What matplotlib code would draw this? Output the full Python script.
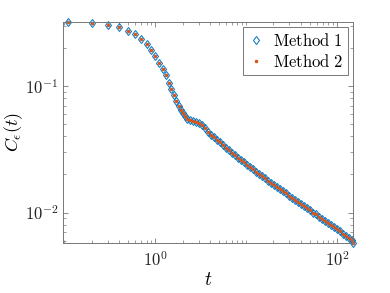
import numpy as np
import matplotlib
matplotlib.use("Agg")
import matplotlib.pyplot as plt
from matplotlib.ticker import FixedLocator, NullFormatter

plt.rcParams["mathtext.fontset"] = "cm"
plt.rcParams["font.family"] = "serif"
plt.rcParams["font.serif"] = ["cmr10", "DejaVu Serif"]
plt.rcParams["axes.formatter.use_mathtext"] = True

# time points: sparse early part, then dense band
t = [0.11, 0.2, 0.3, 0.4, 0.5, 0.6, 0.7, 0.8, 0.9, 1.0, 1.1, 1.2, 1.3, 1.4,
     1.5, 1.6, 1.7, 1.8, 1.9, 2.0, 2.1,
     2.24, 2.42, 2.61, 2.82, 3.04, 3.28, 3.53, 3.81, 4.11, 4.44, 4.79, 5.16,
     5.57, 6.01, 6.48, 6.99, 7.54, 8.13, 8.77, 9.46, 10.2, 11.0, 11.9, 12.8,
     13.8, 14.9, 16.1, 17.3, 18.7, 20.2, 21.8, 23.5, 25.3, 27.3, 29.5, 31.8,
     34.3, 37.0, 39.9, 43.0, 46.4, 50.1, 54.0, 58.3, 62.8, 67.8, 73.1, 78.9,
     85.1, 91.8, 99.0, 106.8, 115.2, 124.3, 134.1, 144.6, 150.0]

# correlation C_eps(t), method 1
c_m1 = [0.323, 0.313, 0.305, 0.291, 0.274, 0.257, 0.235, 0.215, 0.194, 0.173,
        0.153, 0.136, 0.121, 0.106, 0.0947, 0.0849, 0.0757, 0.0695, 0.0646,
        0.0608, 0.0579,
        0.0553, 0.0538, 0.0531, 0.0524, 0.0512, 0.0489, 0.0463, 0.0436,
        0.0412, 0.0392, 0.0375, 0.0358, 0.0342, 0.0326, 0.0311, 0.0297,
        0.0284, 0.0271, 0.0259, 0.0249, 0.0239, 0.0229, 0.0220, 0.0211,
        0.0203, 0.0195, 0.0187, 0.0179, 0.0172, 0.0165, 0.0159, 0.0153,
        0.0147, 0.0142, 0.0136, 0.0131, 0.0126, 0.0122, 0.0117, 0.0113,
        0.0108, 0.0104, 0.0100, 0.00966, 0.00930, 0.00895, 0.00861, 0.00829,
        0.00798, 0.00768, 0.00739, 0.00711, 0.00683, 0.00656, 0.00631,
        0.00604, 0.00580]

# method 2 gives the same values to plotting accuracy
c_m2 = list(c_m1)

fig = plt.figure(figsize=(3.9, 2.93), dpi=100)
ax = fig.add_axes([0.1623, 0.1706, 0.7427, 0.7560])

ax.plot(t, c_m1, ls="none", marker="d", ms=4.5, mfc="none", mec="#0072BD",
        mew=0.7, label=r"$\mathrm{Method\ 1}$", clip_on=False)
ax.plot(t, c_m2, ls="none", marker=".", ms=3, color="#D95319",
        label=r"$\mathrm{Method\ 2}$", clip_on=False)

ax.set_xscale("log")
ax.set_yscale("log")
ax.set_xlim(0.097, 150)
ax.set_ylim(0.00575, 0.323)

ax.xaxis.set_major_locator(FixedLocator([1, 100]))
ax.set_xticklabels([r"$10^{0}$", r"$10^{2}$"])
xminor = [k * 10.0 ** e for e in (-1, 0, 1, 2) for k in range(1, 10)]
ax.xaxis.set_minor_locator(FixedLocator([v for v in xminor if v not in (1, 100)]))
ax.xaxis.set_minor_formatter(NullFormatter())

ax.yaxis.set_major_locator(FixedLocator([0.01, 0.1]))
ax.set_yticklabels([r"$10^{-2}$", r"$10^{-1}$"])
yminor = [k * 10.0 ** e for e in (-3, -2, -1) for k in range(1, 10)]
ax.yaxis.set_minor_locator(FixedLocator([v for v in yminor if v not in (0.01, 0.1)]))
ax.yaxis.set_minor_formatter(NullFormatter())

gray = "#777777"
for sp in ax.spines.values():
    sp.set_color(gray)
    sp.set_linewidth(0.7)
ax.tick_params(which="both", direction="in", top=True, right=True,
               color=gray, labelsize=12, labelcolor="#222222")
ax.tick_params(which="major", length=3.5, width=0.6)
ax.tick_params(which="minor", length=2, width=0.5)
ax.tick_params(axis="x", pad=5)

ax.set_xlabel(r"$t$", fontsize=14, labelpad=2)
ax.set_ylabel(r"$C_{\epsilon}(t)$", fontsize=13, labelpad=0)

leg = ax.legend(loc="upper right", fontsize=12, numpoints=1, handlelength=1.0,
                handletextpad=0.5, borderaxespad=0.3, labelspacing=0.25,
                borderpad=0.3, fancybox=False, framealpha=1)
leg.get_frame().set_edgecolor(gray)
leg.get_frame().set_linewidth(0.7)

fig.savefig("out.png", dpi=100)
